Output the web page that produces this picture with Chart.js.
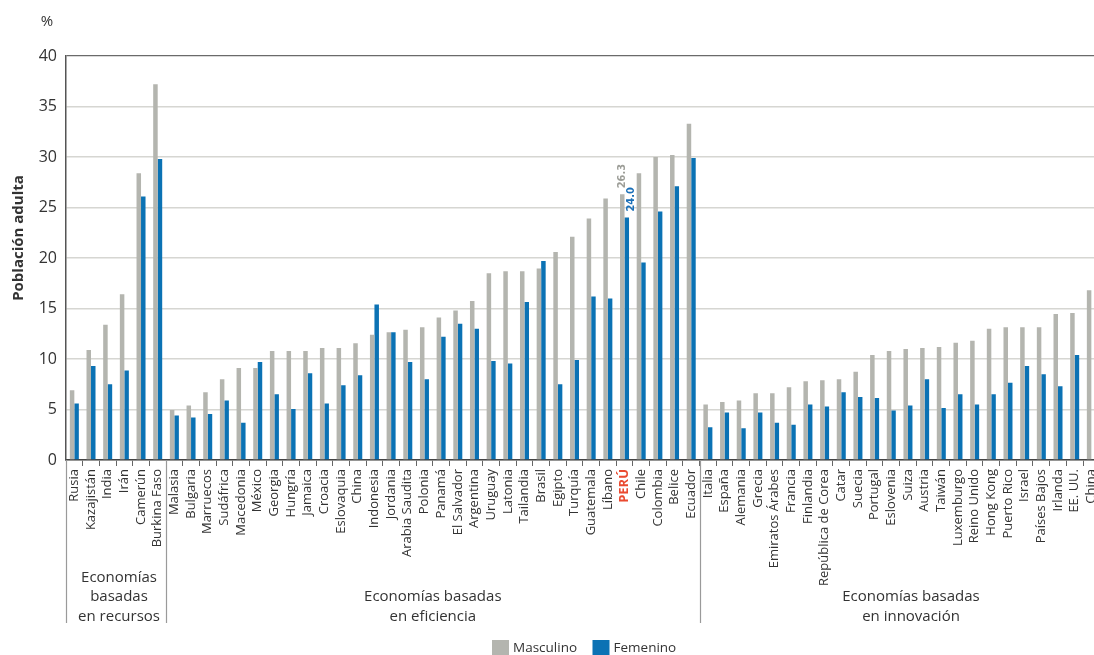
<!DOCTYPE html>
<html>
<head>
<meta charset="utf-8">
<script src="https://cdn.jsdelivr.net/npm/chart.js@4.4.1/dist/chart.umd.min.js"></script>
<style>
  html, body { margin: 0; padding: 0; background: #fff; overflow: hidden; width: 1094px; height: 655px; }
  canvas { display: block; }
</style>
</head>
<body>
<canvas id="c" width="1110" height="655"></canvas>
<script>
// ---- data ----
const categories = [
  'Rusia','Kazajistán','India','Irán','Camerún','Burkina Faso',
  'Malasia','Bulgaria','Marruecos','Sudáfrica','Macedonia','México','Georgia','Hungría','Jamaica','Croacia',
  'Eslovaquia','China','Indonesia','Jordania','Arabia Saudita','Polonia','Panamá','El Salvador','Argentina','Uruguay',
  'Latonia','Tailandia','Brasil','Egipto','Turquía','Guatemala','Líbano','PERÚ','Chile','Colombia','Belice','Ecuador',
  'Italia','España','Alemania','Grecia','Emiratos Árabes','Francia','Finlandia','República de Corea','Catar','Suecia',
  'Portugal','Eslovenia','Suiza','Austria','Taiwán','Luxemburgo','Reino Unido','Hong Kong','Puerto Rico','Israel',
  'Países Bajos','Irlanda','EE. UU.','China'
];
const masculino = [
  6.9,10.9,13.4,16.4,28.4,37.2,
  4.95,5.4,6.7,8.0,9.1,9.1,10.8,10.8,10.8,11.1,
  11.1,11.55,12.4,12.65,12.9,13.15,14.1,14.8,15.75,18.5,
  18.7,18.7,18.95,20.6,22.1,23.9,25.9,26.3,28.4,30.0,30.2,33.3,
  5.5,5.75,5.9,6.6,6.6,7.2,7.8,7.9,8.0,8.75,
  10.4,10.8,11.0,11.1,11.2,11.6,11.8,13.0,13.15,13.15,
  13.15,14.45,14.55,16.8
];
const femenino = [
  5.6,9.3,7.5,8.85,26.1,29.8,
  4.4,4.2,4.55,5.9,3.7,9.7,6.5,5.05,8.6,5.6,
  7.4,8.4,15.4,12.65,9.7,8.0,12.2,13.5,13.0,9.8,
  9.55,15.65,19.7,7.5,9.9,16.2,16.0,24.0,19.55,24.6,27.1,29.9,
  3.25,4.7,3.15,4.7,3.7,3.5,5.5,5.3,6.7,6.25,
  6.15,4.9,5.4,8.0,5.15,6.5,5.5,6.5,7.65,9.3,
  8.5,7.3,10.4,null
];
const seriesNames = ['Masculino','Femenino'];
const yTicks = [0,5,10,15,20,25,30,35,40];
const groupSizes = [6, 32, 24];
const groupLabels = [
  ['Economías','basadas','en recursos'],
  ['Economías basadas','en eficiencia'],
  ['Economías basadas','en innovación']
];
const highlightIndex = 33; // PERÚ
const highlightLabels = ['26.3','24.0'];

// ---- style ----
const GRAY = '#b4b5af';
const BLUE = '#0b72b4';
const FONT = "'Open Sans', 'Noto Sans', sans-serif";
const TEXT = '#333333';

const extras = {
  id: 'extras',
  afterDraw(chart) {
    const ctx = chart.ctx;
    const x = chart.scales.x;
    const ca = chart.chartArea;
    const w = (ca.right - ca.left) / categories.length;
    ctx.save();

    // group separators
    ctx.strokeStyle = '#9a9a9a';
    ctx.lineWidth = 1.2;
    let acc = 0;
    const bounds = [ca.left];
    groupSizes.forEach(n => { acc += n; bounds.push(ca.left + acc * w); });
    bounds.slice(0, 3).forEach(bx => {
      ctx.beginPath();
      ctx.moveTo(Math.round(bx) + 0.5, ca.bottom);
      ctx.lineTo(Math.round(bx) + 0.5, 623);
      ctx.stroke();
    });

    // group labels
    ctx.fillStyle = TEXT;
    ctx.font = '15px ' + FONT;
    ctx.textAlign = 'center';
    ctx.textBaseline = 'middle';
    const centers = [bounds[0] + (bounds[1] - bounds[0]) / 2 + 3, (bounds[1] + bounds[2]) / 2, 911];
    groupLabels.forEach((lines, gi) => {
      const n = lines.length;
      const lastY = 616.5;
      lines.forEach((t, li) => {
        ctx.fillText(t, centers[gi], lastY - (n - 1 - li) * 19.5);
      });
    });

    // highlight value labels
    const m0 = chart.getDatasetMeta(0).data[highlightIndex];
    const m1 = chart.getDatasetMeta(1).data[highlightIndex];
    ctx.font = "bold 11px 'DejaVu Sans Condensed', 'Liberation Sans Narrow', sans-serif";
    ctx.textAlign = 'left';
    ctx.textBaseline = 'middle';
    [[m0, '#9d9e98', highlightLabels[0], 0], [m1, '#1a6fb8', highlightLabels[1], 4]].forEach(([el, col, txt, dx]) => {
      ctx.save();
      ctx.translate(el.x + dx, el.y - 6);
      ctx.rotate(-Math.PI / 2);
      ctx.fillStyle = col;
      ctx.fillText(txt, 0, 0);
      ctx.restore();
    });

    // y title and unit
    ctx.fillStyle = TEXT;
    ctx.save();
    ctx.translate(19, 238);
    ctx.rotate(-Math.PI / 2);
    ctx.font = 'bold 15px ' + FONT;
    ctx.textAlign = 'center';
    ctx.textBaseline = 'middle';
    ctx.fillText('Población adulta', 0, 0);
    ctx.restore();
    ctx.font = '15px ' + FONT;
    ctx.textAlign = 'center';
    ctx.textBaseline = 'middle';
    ctx.fillText('%', 47, 22);

    // legend
    const items = [[GRAY, seriesNames[0], 492], [BLUE, seriesNames[1], 592.5]];
    ctx.font = '13.5px ' + FONT;
    ctx.textAlign = 'left';
    items.forEach(([c, t, lx]) => {
      ctx.fillStyle = c;
      ctx.fillRect(lx, 640, 17, 17);
      ctx.fillStyle = TEXT;
      ctx.fillText(t, lx + 21, 648);
    });
    ctx.restore();
  }
};

new Chart(document.getElementById('c'), {
  type: 'bar',
  data: {
    labels: categories,
    datasets: [
      { label: seriesNames[0], data: masculino, backgroundColor: GRAY, borderWidth: 0,
        categoryPercentage: 0.54, barPercentage: 1.0 },
      { label: seriesNames[1], data: femenino, backgroundColor: BLUE, borderWidth: 0,
        categoryPercentage: 0.54, barPercentage: 1.0 }
    ]
  },
  options: {
    responsive: false,
    devicePixelRatio: 1,
    animation: false,
    layout: { padding: { top: 56, right: 6, bottom: 0, left: 0 } },
    plugins: { legend: { display: false }, tooltip: { enabled: false } },
    scales: {
      x: {
        offset: true,
        afterFit: s => { s.height = 195; },
        grid: { offset: true, drawOnChartArea: false, drawTicks: true, tickLength: 6, color: '#666', lineWidth: 1 },
        border: { display: true, color: '#444', width: 1.5 },
        ticks: {
          autoSkip: false,
          minRotation: 90,
          maxRotation: 90,
          padding: 3,
          color: c => c.index === highlightIndex ? '#ea4a30' : TEXT,
          font: c => ({ family: FONT, size: 13, weight: c.index === highlightIndex ? 'bold' : 'normal' })
        }
      },
      y: {
        min: 0,
        max: 40,
        afterFit: s => { s.width = 66; },
        afterBuildTicks: s => { s.ticks = yTicks.map(v => ({ value: v })); },
        grid: {
          drawTicks: false,
          color: c => (c.tick && c.tick.value === 40) ? '#6a6a6a' : '#d6d6d2',
          lineWidth: c => (c.tick && c.tick.value === 40) ? 1.2 : 1.6
        },
        border: { display: true, color: '#555', width: 1.5 },
        ticks: { padding: 9, color: TEXT, font: { family: FONT, size: 16 } }
      }
    }
  },
  plugins: [extras]
});
</script>
</body>
</html>
